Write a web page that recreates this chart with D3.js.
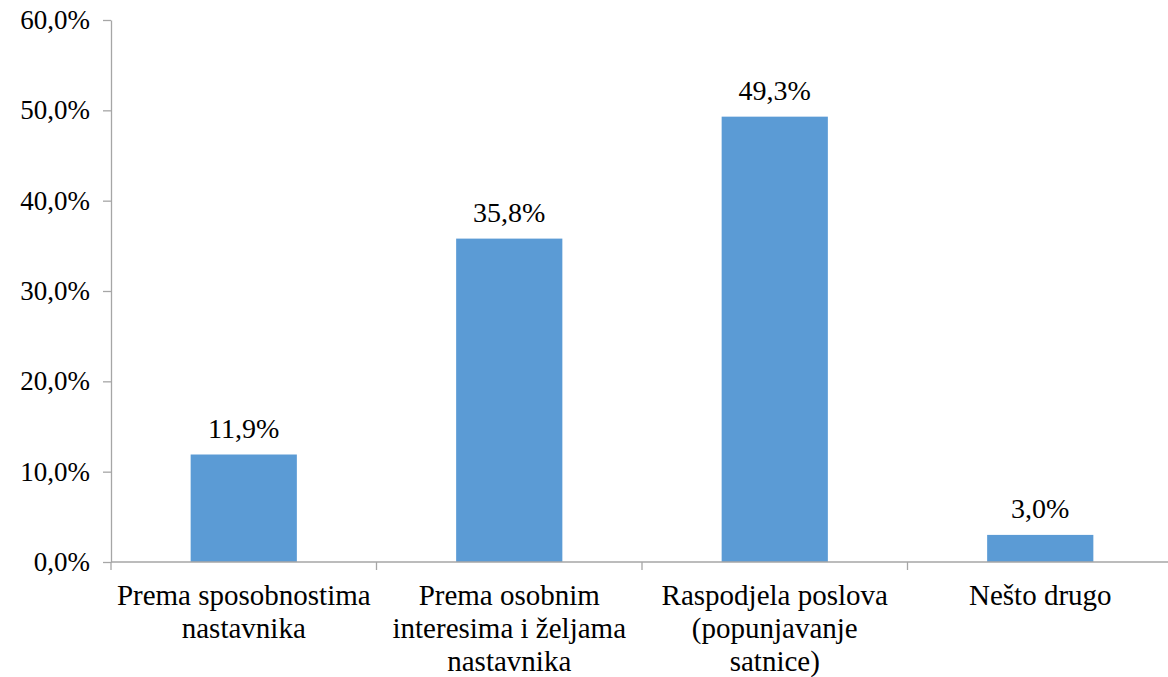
<!DOCTYPE html>
<html>
<head>
<meta charset="utf-8">
<script src="https://cdn.jsdelivr.net/npm/d3@7"></script>
<style>
  html, body { margin: 0; padding: 0; background: #fff; }
  svg { display: block; }
</style>
</head>
<body>
<svg id="chart" width="1168" height="677"></svg>
<script>
const categories = [
  ["Prema sposobnostima", "nastavnika"],
  ["Prema osobnim", "interesima i željama", "nastavnika"],
  ["Raspodjela poslova", "(popunjavanje", "satnice)"],
  ["Nešto drugo"]
];
const values = [11.9, 35.8, 49.3, 3.0];
const yTicks = [0, 10, 20, 30, 40, 50, 60];

const fmt = v => v.toFixed(1).replace(".", ",") + "%";

const svg = d3.select("#chart");
const mLeft = 111, mTop = 20, mBottom = 562, mRight = 1173;
const tickFont = 27, dataFont = 28, catFont = 29;
const fontFam = "Liberation Serif";
const axisColor = "#a6a6a6";

const xb = d3.scaleBand().domain(d3.range(categories.length)).range([mLeft, mRight]);
const y = d3.scaleLinear().domain([0, 60]).range([mBottom, mTop]);
const barW = xb.bandwidth() * 0.4;

// bars
svg.append("g").selectAll("rect").data(values).join("rect")
  .attr("x", (d, i) => xb(i) + xb.bandwidth() / 2 - barW / 2)
  .attr("width", barW)
  .attr("y", d => y(d))
  .attr("height", d => y(0) - y(d))
  .attr("fill", "#5b9bd5");

// data labels
svg.append("g").selectAll("text").data(values).join("text")
  .attr("x", (d, i) => xb(i) + xb.bandwidth() / 2)
  .attr("y", d => y(d) - 17)
  .attr("text-anchor", "middle")
  .style("font-family", fontFam)
  .style("font-size", dataFont + "px")
  .attr("fill", "#000")
  .text(d => fmt(d));

// y axis
const yAxis = svg.append("g").attr("transform", `translate(${mLeft},0)`)
  .call(d3.axisLeft(y).tickValues(yTicks).tickFormat(fmt).tickSize(8).tickPadding(13).tickSizeOuter(0));
yAxis.select(".domain").attr("stroke", axisColor).attr("stroke-width", 1.3);
yAxis.selectAll(".tick line").attr("stroke", axisColor).attr("stroke-width", 1.3);
yAxis.selectAll(".tick text")
  .style("font-family", fontFam)
  .style("font-size", tickFont + "px")
  .attr("fill", "#000");

// x axis
const boundaries = d3.range(categories.length + 1).map(i => mLeft + i * xb.step());
const xAxisG = svg.append("g");
xAxisG.append("line").attr("x1", mLeft).attr("x2", 1168).attr("y1", mBottom).attr("y2", mBottom)
  .attr("stroke", axisColor).attr("stroke-width", 1.3);
xAxisG.selectAll("line.tk").data(boundaries).join("line").attr("class", "tk")
  .attr("x1", d => d).attr("x2", d => d).attr("y1", mBottom).attr("y2", mBottom + 8)
  .attr("stroke", axisColor).attr("stroke-width", 1.3);

const labels = svg.append("g").selectAll("text").data(categories).join("text")
  .attr("text-anchor", "middle")
  .style("font-family", fontFam)
  .style("font-size", catFont + "px")
  .attr("fill", "#000")
  .attr("transform", (d, i) => `translate(${xb(i) + xb.bandwidth() / 2},${mBottom + 43})`);
labels.selectAll("tspan").data(d => d).join("tspan")
  .attr("x", 0).attr("y", (d, j) => j * 33)
  .text(d => d);
</script>
</body>
</html>
